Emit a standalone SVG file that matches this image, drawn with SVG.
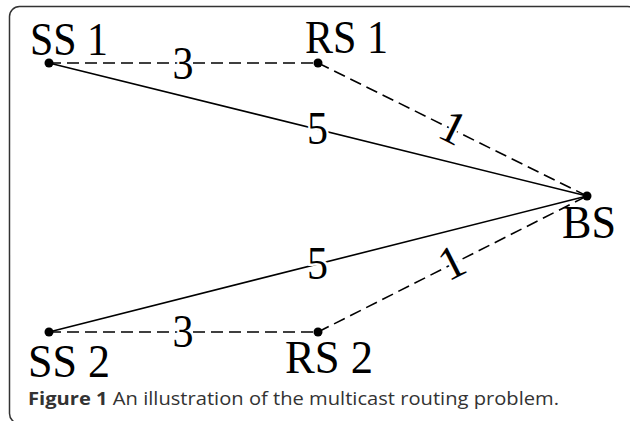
<svg xmlns="http://www.w3.org/2000/svg" width="630" height="421" viewBox="0 0 630 421">
  <style>
    .frame { fill: none; stroke: #333; stroke-width: 1.5; }
    .edge { fill: none; stroke: #000; stroke-width: 1.6; }
    .dash { stroke-dasharray: 12 6; }
    .dot { fill: #000; }
    .lbl { font-family: "Liberation Serif", "Times New Roman", serif; font-size: 46px; fill: #000; }
    .w { font-family: "Liberation Serif", "Times New Roman", serif; font-size: 47px; fill: #000; text-anchor: middle; stroke: #fff; stroke-width: 5; paint-order: stroke; }
    .cap { font-family: "Open Sans", "Liberation Sans", sans-serif; font-size: 18px; fill: #333; }
  </style>
  <rect class="frame" x="9.5" y="6.5" width="628" height="417" rx="10"/>
  <g id="connectors">
    <line class="edge dash" x1="49" y1="63" x2="318" y2="63"/>
    <line class="edge" x1="49" y1="63" x2="587" y2="196"/>
    <line class="edge dash" x1="318" y1="63" x2="587" y2="196"/>
    <line class="edge dash" x1="49" y1="332" x2="318" y2="332"/>
    <line class="edge" x1="49" y1="332" x2="587" y2="196"/>
    <line class="edge dash" x1="318" y1="332" x2="587" y2="196"/>
    <text class="w" x="183" y="79" textLength="21" lengthAdjust="spacingAndGlyphs">3</text>
    <text class="w" x="183" y="347" textLength="21" lengthAdjust="spacingAndGlyphs">3</text>
    <text class="w" x="317.5" y="144" textLength="21" lengthAdjust="spacingAndGlyphs">5</text>
    <text class="w" x="317.5" y="279" textLength="21" lengthAdjust="spacingAndGlyphs">5</text>
    <text class="w" transform="translate(453,128) rotate(26.3)" x="0" y="15">1</text>
    <text class="w" transform="translate(452,263) rotate(-26.8)" x="0" y="15">1</text>
  </g>
  <g id="SS1">
    <circle class="dot" cx="49" cy="63" r="4.5"/>
    <text class="lbl" x="30" y="55" textLength="78" lengthAdjust="spacingAndGlyphs">SS 1</text>
  </g>
  <g id="RS1">
    <circle class="dot" cx="318" cy="63" r="4.5"/>
    <text class="lbl" x="305" y="53" textLength="83" lengthAdjust="spacingAndGlyphs">RS 1</text>
  </g>
  <g id="BS">
    <circle class="dot" cx="587" cy="196" r="4.5"/>
    <text class="lbl" x="562" y="238" textLength="54" lengthAdjust="spacingAndGlyphs">BS</text>
  </g>
  <g id="SS2">
    <circle class="dot" cx="49" cy="332" r="4.5"/>
    <text class="lbl" x="28" y="377" textLength="82" lengthAdjust="spacingAndGlyphs">SS 2</text>
  </g>
  <g id="RS2">
    <circle class="dot" cx="318" cy="332" r="4.5"/>
    <text class="lbl" x="285" y="373" textLength="88" lengthAdjust="spacingAndGlyphs">RS 2</text>
  </g>
  <g id="caption">
    <text class="cap" x="28" y="405" textLength="531" lengthAdjust="spacingAndGlyphs"><tspan font-weight="bold">Figure 1</tspan> An illustration of the multicast routing problem.</text>
  </g>
</svg>
